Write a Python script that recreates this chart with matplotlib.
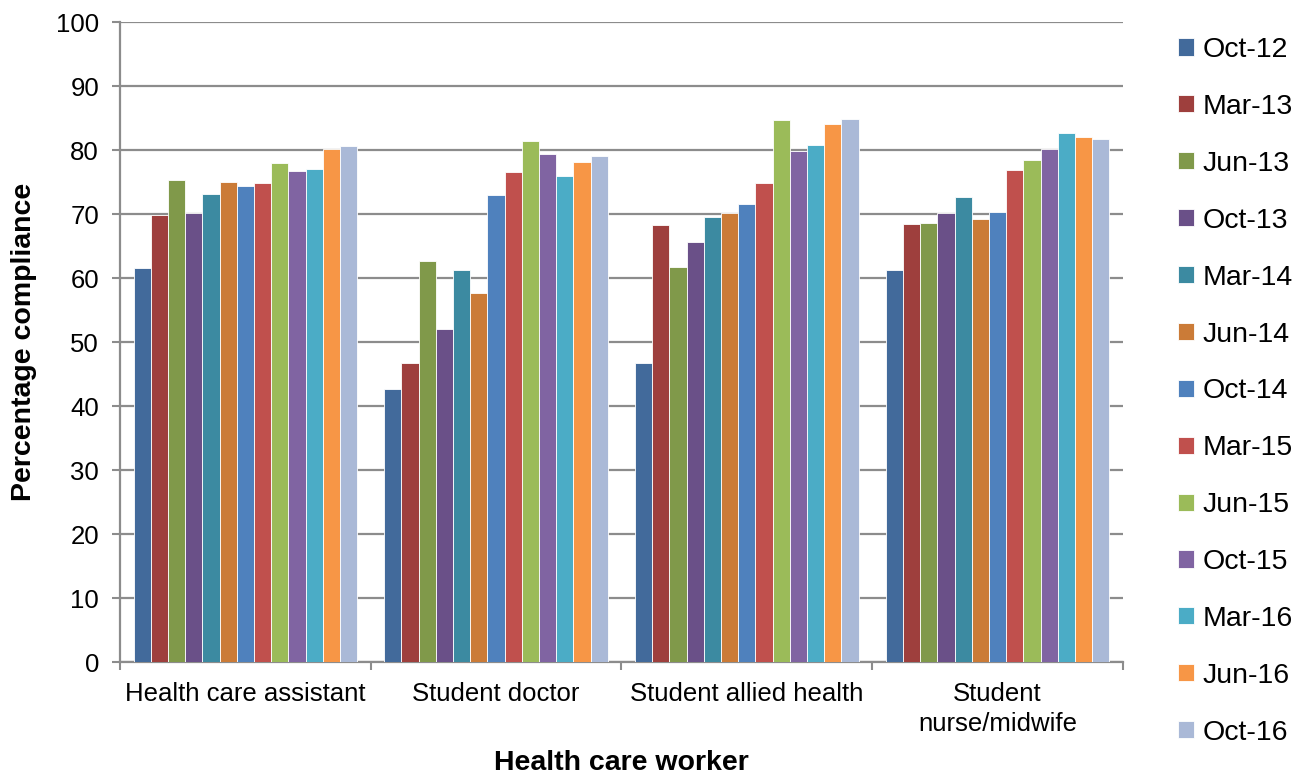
import matplotlib
matplotlib.use("Agg")
import matplotlib.pyplot as plt
import numpy as np

plt.rcParams["font.family"] = ["Liberation Sans", "DejaVu Sans"]

# categories and survey dates
workers = ["Health care assistant", "Student doctor", "Student allied health",
           "Student\nnurse/midwife"]
dates = ["Oct-12", "Mar-13", "Jun-13", "Oct-13", "Mar-14", "Jun-14", "Oct-14",
         "Mar-15", "Jun-15", "Oct-15", "Mar-16", "Jun-16", "Oct-16"]

# percentage compliance, one list per worker group (in date order)
hca = [61.6, 69.9, 75.3, 70.2, 73.1, 75.0, 74.4, 74.8, 78.0, 76.8, 77.0, 80.1, 80.7]
doctor = [42.7, 46.7, 62.6, 52.1, 61.3, 57.6, 73.0, 76.5, 81.4, 79.4, 75.9, 78.1, 79.0]
allied = [46.8, 68.3, 61.8, 65.7, 69.6, 70.2, 71.5, 74.8, 84.7, 79.8, 80.8, 84.1, 84.8]
nurse = [61.3, 68.5, 68.6, 70.2, 72.6, 69.2, 70.4, 76.9, 78.5, 80.1, 82.7, 82.1, 81.7]

colors = ["#426A9B", "#9E3F3D", "#80994A", "#6A5088", "#3C8AA1", "#CB7B37",
          "#4F81BD", "#C0504D", "#9BBB59", "#8064A2", "#4BACC6", "#F79646",
          "#AAB9D7"]

values = np.array([hca, doctor, allied, nurse])

fig = plt.figure(figsize=(13.11, 7.78), dpi=100)
ax = fig.add_axes([0.0915, 0.149, 0.765, 0.8226])

n = len(dates)
w = 0.0686
x = np.arange(len(workers))
for i in range(n):
    ax.bar(x - (n - 1) / 2 * w + i * w, values[:, i], width=w, color=colors[i],
           edgecolor="white", linewidth=0.6, label=dates[i], zorder=3)

ax.set_xlim(-0.5, len(workers) - 0.5)
ax.set_ylim(0, 100)
ax.set_yticks(np.arange(0, 101, 10))
ax.yaxis.grid(True, color="#8C8C8C", linewidth=1.6, zorder=0)
ax.set_axisbelow(True)

ax.set_xticks(np.arange(-0.5, len(workers), 1))
ax.set_xticklabels([])
ax.set_xticks(x, minor=True)
ax.set_xticklabels(workers, minor=True, fontsize=18.5, linespacing=1.35)
ax.tick_params(axis="x", which="minor", length=0, pad=14)
ax.tick_params(axis="x", which="major", length=6, width=1.5, color="#8C8C8C")
ax.tick_params(axis="y", length=6, width=1.5, color="#8C8C8C", labelsize=18.5, pad=9)

for s in ["top", "right"]:
    ax.spines[s].set_visible(False)
for s in ["left", "bottom"]:
    ax.spines[s].set_color("#8C8C8C")
    ax.spines[s].set_linewidth(1.6)

ax.set_xlabel("Health care worker", fontsize=20.5, fontweight="bold", labelpad=10)
ax.set_ylabel("Percentage compliance", fontsize=20.5, fontweight="bold", labelpad=14)

fig.legend(loc="upper left", bbox_to_anchor=(0.890, 0.967), frameon=False,
           fontsize=20.5, handlelength=0.55, handleheight=0.55, handletextpad=0.3,
           labelspacing=1.085, borderaxespad=0)

fig.savefig("out.png", dpi=100)
